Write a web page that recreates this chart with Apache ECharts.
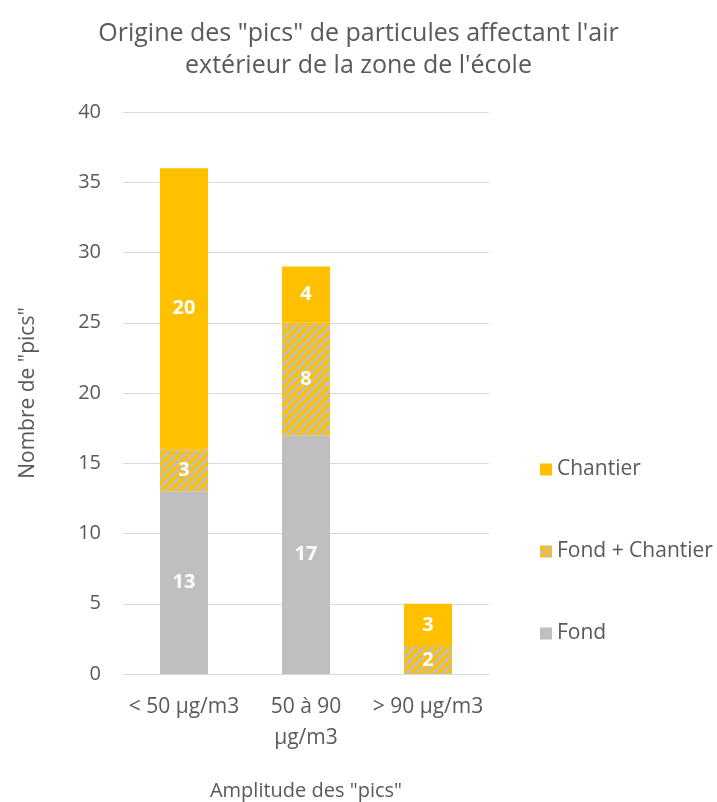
<!DOCTYPE html>
<html>
<head>
<meta charset="utf-8">
<script src="https://cdn.jsdelivr.net/npm/echarts@6/dist/echarts.min.js"></script>
<style>
  html, body { margin: 0; padding: 0; background: #fff; }
  #chart { width: 717px; height: 802px; }
</style>
</head>
<body>
<div id="chart"></div>
<script>
// Categories and stacked counts per origin
const categories = ['< 50 µg/m3', '50 à 90\nµg/m3', '> 90 µg/m3'];
const fond = [13, 17, 0];
const fondChantier = [3, 8, 2];
const chantier = [20, 4, 3];
const yTicks = { min: 0, max: 40, interval: 5 };

const GOLD = '#FFC000';
const GREY = '#BFBFBF';
const FONT = '"Open Sans", "DejaVu Sans", sans-serif';

// Diagonal hatch: gold background with grey "/" stripes
function hatch() {
  const s = 9;
  const c = document.createElement('canvas');
  c.width = s; c.height = s;
  const g = c.getContext('2d');
  g.fillStyle = GOLD;
  g.fillRect(0, 0, s, s);
  g.strokeStyle = GREY;
  g.lineWidth = 3;
  for (const k of [-s, 0, s]) {
    g.beginPath();
    g.moveTo(k, s);
    g.lineTo(k + s, 0);
    g.stroke();
  }
  return { image: c, repeat: 'repeat' };
}

const labelStyle = {
  show: true,
  position: 'inside',
  color: '#fff',
  fontSize: 20,
  fontWeight: 'bold',
  fontFamily: FONT,
  formatter: p => (p.value ? p.value : '')
};

const chart = echarts.init(document.getElementById('chart'));
chart.setOption({
  animation: false,
  backgroundColor: '#fff',
  title: {
    text: 'Origine des "pics" de particules affectant l\'air\nextérieur de la zone de l\'école',
    left: 'center',
    top: 13,
    textStyle: { color: '#595959', fontSize: 25, fontWeight: 'normal', fontFamily: FONT, lineHeight: 32 }
  },
  legend: {
    orient: 'vertical',
    left: 535,
    top: 454,
    itemGap: 61,
    itemWidth: 12,
    itemHeight: 12,
    icon: 'rect',
    data: ['Chantier', 'Fond + Chantier', 'Fond'],
    textStyle: { color: '#595959', fontSize: 21, fontFamily: FONT }
  },
  grid: { left: 123, right: 228, top: 112, bottom: 128, containLabel: false, outerBoundsMode: 'none' },
  xAxis: {
    type: 'category',
    data: categories,
    name: 'Amplitude des "pics"',
    nameLocation: 'middle',
    nameGap: 107,
    nameTextStyle: { color: '#595959', fontSize: 20, fontFamily: FONT },
    axisTick: { show: false },
    axisLine: { lineStyle: { color: '#D9D9D9', width: 1 } },
    axisLabel: { interval: 0, color: '#595959', fontSize: 21, fontFamily: FONT, margin: 18, lineHeight: 31 }
  },
  yAxis: {
    type: 'value',
    min: yTicks.min,
    max: yTicks.max,
    interval: yTicks.interval,
    name: 'Nombre de "pics"',
    nameLocation: 'middle',
    nameGap: 84,
    nameTextStyle: { color: '#595959', fontSize: 21, fontFamily: FONT },
    axisLine: { show: false },
    axisTick: { show: false },
    axisLabel: { color: '#595959', fontSize: 20, fontFamily: FONT, margin: 22 },
    splitLine: { lineStyle: { color: '#D9D9D9', width: 1 } }
  },
  series: [
    { name: 'Fond', type: 'bar', stack: 'total', data: fond, barWidth: 48,
      itemStyle: { color: GREY }, label: labelStyle },
    { name: 'Fond + Chantier', type: 'bar', stack: 'total', data: fondChantier, barWidth: 48,
      itemStyle: { color: hatch() }, label: labelStyle },
    { name: 'Chantier', type: 'bar', stack: 'total', data: chantier, barWidth: 48,
      itemStyle: { color: GOLD }, label: labelStyle }
  ]
});
</script>
</body>
</html>
